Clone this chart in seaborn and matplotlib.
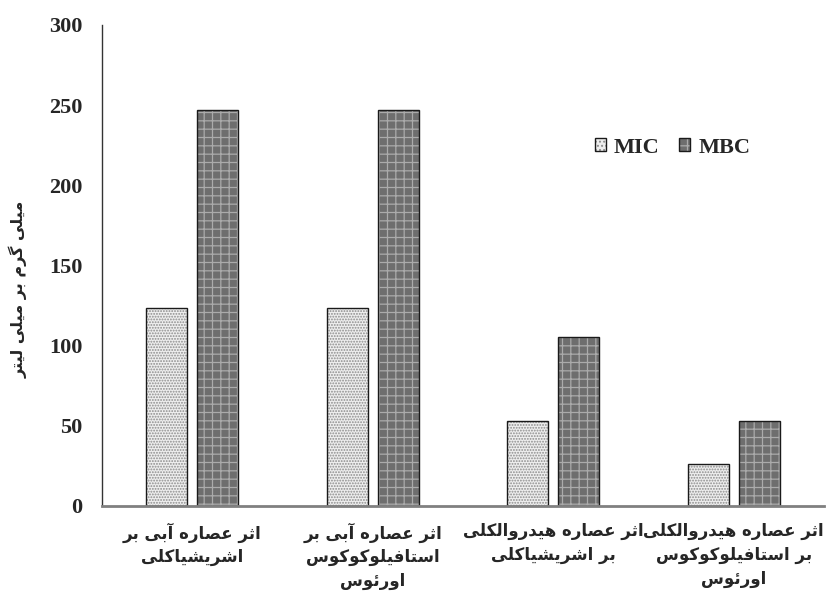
import matplotlib
matplotlib.use("Agg")
import matplotlib.pyplot as plt
import matplotlib.colors as mcolors
import numpy as np
import pandas as pd
import seaborn as sns

# ---- data -------------------------------------------------------------
categories = [
    "اثر عصاره آبی بر\nاشریشیاکلی",
    "اثر عصاره آبی بر\nاستافیلوکوکوس\nاورئوس",
    "اثر عصاره هیدروالکلی\nبر اشریشیاکلی",
    "اثر عصاره هیدروالکلی\nبر استافیلوکوکوس\nاورئوس",
]
mic_values = [123.3, 123.3, 52.7, 26.3]
mbc_values = [246.7, 246.7, 105.5, 52.7]
series_names = ["MIC", "MBC"]
y_label = "میلی گرم بر میلی لیتر"
y_ticks = [0, 50, 100, 150, 200, 250, 300]

# ---- simple Arabic-script shaping (matplotlib has no complex layout) ----
# forms: (isolated, final, initial, medial); two-tuple = right-joining only
FORMS = {
    "\u0627": (0xFE8D, 0xFE8E),
    "\u0622": (0xFE81, 0xFE82),
    "\u062F": (0xFEA9, 0xFEAA),
    "\u0631": (0xFEAD, 0xFEAE),
    "\u0648": (0xFEED, 0xFEEE),
    "\u0628": (0xFE8F, 0xFE90, 0xFE91, 0xFE92),
    "\u062A": (0xFE95, 0xFE96, 0xFE97, 0xFE98),
    "\u062B": (0xFE99, 0xFE9A, 0xFE9B, 0xFE9C),
    "\u0633": (0xFEB1, 0xFEB2, 0xFEB3, 0xFEB4),
    "\u0634": (0xFEB5, 0xFEB6, 0xFEB7, 0xFEB8),
    "\u0635": (0xFEB9, 0xFEBA, 0xFEBB, 0xFEBC),
    "\u0639": (0xFEC9, 0xFECA, 0xFECB, 0xFECC),
    "\u0641": (0xFED1, 0xFED2, 0xFED3, 0xFED4),
    "\u06A9": (0xFED9, 0xFEDA, 0xFEDB, 0xFEDC),
    "\u06AF": (0xFB92, 0xFB93, 0xFB94, 0xFB95),
    "\u0644": (0xFEDD, 0xFEDE, 0xFEDF, 0xFEE0),
    "\u0645": (0xFEE1, 0xFEE2, 0xFEE3, 0xFEE4),
    "\u0646": (0xFEE5, 0xFEE6, 0xFEE7, 0xFEE8),
    "\u0647": (0xFEE9, 0xFEEA, 0xFEEB, 0xFEEC),
    "\u06CC": (0xFEEF, 0xFEF0, 0xFEF3, 0xFEF4),
    "\u0626": (0xFE89, 0xFE8A, 0xFE8B, 0xFE8C),
}


def _dual(ch):
    return ch in FORMS and len(FORMS[ch]) == 4


def shape_line(text):
    out = []
    n = len(text)
    for i, ch in enumerate(text):
        if ch not in FORMS:
            out.append(ch)
            continue
        prev_c = i > 0 and _dual(text[i - 1])
        next_c = _dual(ch) and i + 1 < n and text[i + 1] in FORMS
        f = FORMS[ch]
        if prev_c and next_c:
            out.append(chr(f[3]))
        elif prev_c:
            out.append(chr(f[1]))
        elif next_c:
            out.append(chr(f[2]))
        else:
            out.append(chr(f[0]))
    return "".join(out)[::-1]


def shape(text):
    return "\n".join(shape_line(line) for line in text.split("\n"))


# ---- figure -------------------------------------------------------------
sns.set_theme(style="white")
plt.rcParams["hatch.linewidth"] = 0.9

df = pd.DataFrame({
    "category": categories * 2,
    "series": [series_names[0]] * 4 + [series_names[1]] * 4,
    "value": mic_values + mbc_values,
})

fig = plt.figure(figsize=(8.27, 6.0), dpi=100)
ax = fig.add_axes([102 / 827, 94.3 / 600, 722 / 827, 480.7 / 600])

sns.barplot(data=df, x="category", y="value", hue="series",
            hue_order=series_names, order=categories,
            palette=["#efefef", "#6c6c6c"], width=0.567, gap=0.196,
            edgecolor="#1a1a1a", linewidth=1.0, ax=ax, legend=True)

styles = {
    "MIC": dict(face="#eeeeee", hatch="......", hcol="#8c8c8c"),
    "MBC": dict(face="#6e6e6e", hatch="++", hcol="#ababab"),
}
for container, name in zip(ax.containers, series_names):
    st = styles[name]
    for p in container:
        p.set_facecolor(st["face"])
        p.set_hatch(st["hatch"])
        p.set_edgecolor("#1a1a1a")
        p._hatch_color = mcolors.to_rgba(st["hcol"])

ax.set_ylim(0, 300)
ax.set_xlim(-0.5, 3.5)
ax.set_yticks(y_ticks)
ax.set_yticklabels([str(t) for t in y_ticks], family="Liberation Serif",
                   fontweight="bold", fontsize=16)
ax.set_xticks(range(len(categories)))
ax.set_xticklabels([shape(c) for c in categories], family="DejaVu Sans",
                   fontweight="bold", fontsize=12, linespacing=1.4,
                   ha="center")
ax.tick_params(axis="y", length=0, pad=14)
ax.tick_params(axis="x", length=0, pad=12)
ax.set_xlabel("")
ax.set_ylabel(shape(y_label), family="DejaVu Sans", fontweight="bold",
              fontsize=11.5)
ax.yaxis.set_label_coords(-0.103, 0.45)

for side in ("top", "right"):
    ax.spines[side].set_visible(False)
ax.spines["left"].set_color("#333333")
ax.spines["left"].set_linewidth(1.0)
ax.spines["bottom"].set_color("#808080")
ax.spines["bottom"].set_linewidth(2.0)

handles, labels = ax.get_legend_handles_labels()
for h, name in zip(handles, series_names):
    st = styles[name]
    h.set_facecolor(st["face"])
    h.set_hatch("...." if name == "MIC" else "++")
    h.set_edgecolor("#1a1a1a")
    h._hatch_color = mcolors.to_rgba(st["hcol"])
ax.legend(handles, labels, loc="center", bbox_to_anchor=(0.79, 0.745),
          ncol=2, frameon=False, handlelength=0.5, handleheight=0.5,
          handletextpad=0.35, columnspacing=0.9,
          prop=dict(family="Liberation Serif", weight="bold", size=16))

fig.savefig("out.png", dpi=100)
